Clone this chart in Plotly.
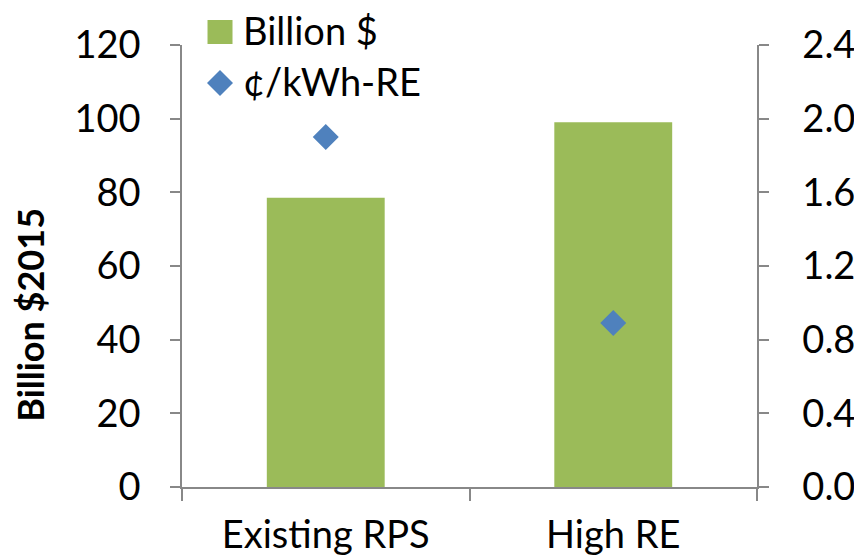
import plotly.graph_objects as go

# scenario data
categories = ["Existing RPS", "High RE"]
billion_usd = [78.5, 99.0]
cents_per_kwh = [1.90, 0.89]

left_ticks = [0, 20, 40, 60, 80, 100, 120]
right_ticks = [0.0, 0.4, 0.8, 1.2, 1.6, 2.0, 2.4]

series_names = ["Billion $", "¢/kWh-RE"]
y_title = "Billion $2015"

GREEN = "#9bbb59"
BLUE = "#4f81bd"
AXIS = "#888888"
FONT = "Lato, Open Sans, sans-serif"
FS = 38

fig = go.Figure()

fig.add_trace(go.Bar(
    x=categories,
    y=billion_usd,
    name=series_names[0],
    marker=dict(color=GREEN, line=dict(width=0)),
    width=0.41,
    yaxis="y",
    showlegend=False,
))

fig.add_trace(go.Scatter(
    x=categories,
    y=cents_per_kwh,
    name=series_names[1],
    mode="markers",
    marker=dict(symbol="diamond", size=20, color=BLUE),
    yaxis="y2",
    showlegend=False,
))

# hand-drawn legend (plotly caps legend symbol size)
legend_x = 0.0661
legend_rows = [1.0294, 0.914]
fig.add_shape(type="rect", xref="paper", yref="paper",
              xsizemode="pixel", ysizemode="pixel",
              xanchor=legend_x, yanchor=legend_rows[0],
              x0=-12.5, x1=12.5, y0=-12, y1=12,
              fillcolor=GREEN, line=dict(width=0))
fig.add_shape(type="path", xref="paper", yref="paper",
              xsizemode="pixel", ysizemode="pixel",
              xanchor=legend_x, yanchor=legend_rows[1],
              path="M 0 13 L 13 0 L 0 -13 L -13 0 Z",
              fillcolor=BLUE, line=dict(width=0))
for name, yy in zip(series_names, legend_rows):
    fig.add_annotation(text=name, xref="paper", yref="paper",
                       x=0.102, y=yy, xanchor="left", yanchor="middle",
                       yshift=2, showarrow=False, font=dict(size=FS))

# y title sits below the axis centre in the original, so place it by hand
fig.add_annotation(text=f"<b>{y_title}</b>", xref="paper", yref="paper",
                   x=-0.265, y=0.389, xanchor="center", yanchor="middle",
                   textangle=-90, showarrow=False, font=dict(size=36))

tick_style = dict(
    showline=True, linecolor=AXIS, linewidth=1.5,
    ticks="outside", tickcolor=AXIS, tickwidth=1.5,
    showgrid=False, zeroline=False,
    tickfont=dict(size=FS),
    automargin=False,
)

fig.update_layout(
    width=854,
    height=560,
    margin=dict(l=182, r=97, t=45, b=73),
    plot_bgcolor="white",
    paper_bgcolor="white",
    font=dict(family=FONT, size=FS, color="black"),
    showlegend=False,
    xaxis=dict(
        tick_style,
        ticklen=12,
        tickson="boundaries",
        ticklabelstandoff=14,
    ),
    yaxis=dict(
        tick_style,
        range=[0, 120],
        tickvals=left_ticks,
        ticklen=10,
        ticklabelstandoff=22,
    ),
    yaxis2=dict(
        tick_style,
        range=[0, 2.4],
        tickvals=right_ticks,
        tickformat=".1f",
        overlaying="y",
        side="right",
        ticklen=10,
        ticklabelstandoff=26,
    ),
)

# drop the default 8px body margin so the figure fills the window
fig.write_html("out.html", config={"displayModeBar": False},
               post_script="document.body.style.margin = '0';")
